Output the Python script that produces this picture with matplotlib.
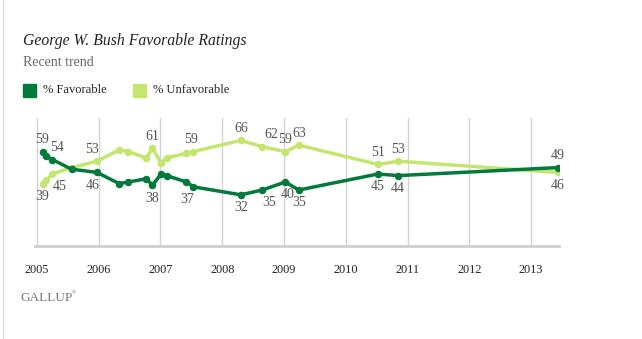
import matplotlib
matplotlib.use("Agg")
import matplotlib.pyplot as plt
from matplotlib.lines import Line2D
from matplotlib.patches import Rectangle

# Survey dates (decimal years) and ratings
dates = [2005.09, 2005.15, 2005.25, 2005.56, 2005.97, 2006.33, 2006.48, 2006.77,
         2006.87, 2007.01, 2007.10, 2007.42, 2007.53, 2008.30, 2008.65, 2009.02,
         2009.24, 2010.52, 2010.85, 2013.43]
favorable = [59, 56, 54, 48, 46, 39, 40, 42, 38, 45, 44, 40, 37, 32, 35, 40, 35, 45, 44, 49]
unfavorable = [39, 41, 45, 49, 53, 60, 59, 55, 61, 52, 55, 58, 59, 66, 62, 59, 63, 51, 53, 46]
years = [2005, 2006, 2007, 2008, 2009, 2010, 2011, 2012, 2013]

# which points get a value label, and where (dx px, above/below)
fav_labels = {0: (0, 1), 2: (5, 1), 4: (-4, -1), 8: (0, -1), 12: (-6, -1), 13: (0, -1),
              14: (7, -1), 15: (2, -1), 16: (0, -1), 17: (0, -1), 18: (0, -1), 19: (0, 1)}
unf_labels = {0: (0, -1), 2: (7, -1), 4: (-5, 1), 8: (0, 1), 12: (-2, 1), 13: (0, 1),
              14: (9, 1), 15: (0, 1), 16: (0, 1), 17: (0, 1), 18: (0, 1), 19: (0, -1)}

DARK = "#037a3b"
LIGHT = "#c4e56e"
SERIF = ["Liberation Serif", "DejaVu Serif"]
W, H = 642, 339

fig = plt.figure(figsize=(W / 100, H / 100), dpi=100)
fig.patch.set_facecolor("white")

def px(x, y):
    return x / W, 1 - y / H

ax = fig.add_axes([35 / W, (H - 246) / H, (559 - 35) / W, (246 - 118) / H])
ax.set_xlim(2004.968, 2013.453)
ax.set_ylim(0, 80)

for yr in years:
    ax.axvline(yr, color="#d4d4d4", lw=1, zorder=0)

ax.plot(dates, favorable, color=DARK, lw=2.5, marker="o", ms=4.4, zorder=3)
ax.plot(dates, unfavorable, color=LIGHT, lw=2.5, marker="o", ms=4.4, zorder=2)

for series, labels in ((favorable, fav_labels), (unfavorable, unf_labels)):
    for i, (dx, side) in labels.items():
        dy = 12 if side > 0 else -13
        ax.annotate(str(series[i]), (dates[i], series[i]), xytext=(dx, dy),
                    textcoords="offset pixels", ha="center", va="center",
                    fontsize=10, color="#555555", family=SERIF, zorder=5)

for s in ["top", "right", "left"]:
    ax.spines[s].set_visible(False)
ax.spines["bottom"].set_color("#cfcfcf")
ax.spines["bottom"].set_linewidth(2)
ax.set_yticks([])
ax.set_xticks(years)
ax.set_xticklabels([str(y) for y in years], family=SERIF, fontsize=8.8, color="#222222")
ax.tick_params(axis="x", length=0, pad=13)

# titles and legend
fig.text(*px(23, 41), "George W. Bush Favorable Ratings", family=SERIF, style="italic",
         fontsize=11.3, color="#222222", va="center")
fig.text(*px(23, 63), "Recent trend", family=SERIF, fontsize=10, color="#666666", va="center")
fig.patches.append(Rectangle(px(23, 97), 13 / W, 13 / H, transform=fig.transFigure,
                             color=DARK, figure=fig))
fig.text(*px(43, 90), "% Favorable", family=SERIF, fontsize=9, color="#222222", va="center")
fig.patches.append(Rectangle(px(133, 97), 13 / W, 13 / H, transform=fig.transFigure,
                             color=LIGHT, figure=fig))
fig.text(*px(153, 90), "% Unfavorable", family=SERIF, fontsize=9, color="#222222", va="center")

fig.text(*px(21, 298), "GALLUP", family=SERIF, fontsize=9.5, color="#777777", va="center")
fig.text(*px(72, 293), "\u00ae", family=SERIF, fontsize=4, color="#777777", va="center")

fig.lines.append(Line2D([3 / W, 3 / W], [0, 1], transform=fig.transFigure,
                        color="#e0e0e0", lw=1))

fig.savefig("out.png", dpi=100)
